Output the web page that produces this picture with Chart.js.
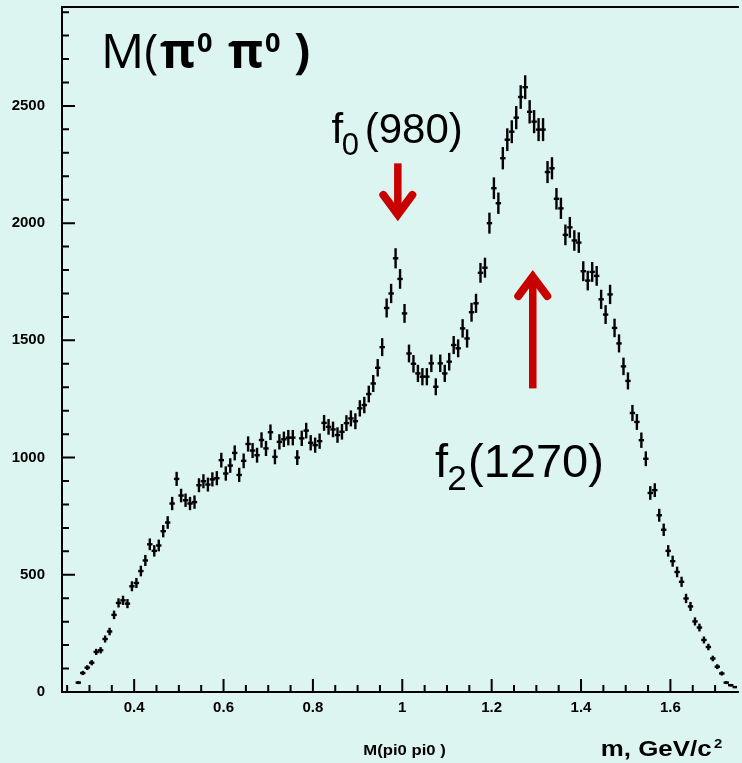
<!DOCTYPE html>
<html><head><meta charset="utf-8">
<script src="https://cdn.jsdelivr.net/npm/chart.js@4/dist/chart.umd.min.js"></script>
<style>html,body{margin:0;padding:0;background:#ddf5f1;overflow:hidden}#wrap{width:742px;height:763px;position:relative}</style>
</head><body><div id="wrap"><canvas id="c" width="742" height="763"></canvas></div>
<script>
// ---- data (bin centres in GeV/c^2, counts per 10 MeV bin) ----
const massBins = [
0.275,0.285,0.295,0.305,0.315,0.325,0.335,0.345,0.355,0.365,
0.375,0.385,0.395,0.405,0.415,0.425,0.435,0.445,0.455,0.465,
0.475,0.485,0.495,0.505,0.515,0.525,0.535,0.545,0.555,0.565,
0.575,0.585,0.595,0.605,0.615,0.625,0.635,0.645,0.655,0.665,
0.675,0.685,0.695,0.705,0.715,0.725,0.735,0.745,0.755,0.765,
0.775,0.785,0.795,0.805,0.815,0.825,0.835,0.845,0.855,0.865,
0.875,0.885,0.895,0.905,0.915,0.925,0.935,0.945,0.955,0.965,
0.975,0.985,0.995,1.005,1.015,1.025,1.035,1.045,1.055,1.065,
1.075,1.085,1.095,1.105,1.115,1.125,1.135,1.145,1.155,1.165,
1.175,1.185,1.195,1.205,1.215,1.225,1.235,1.245,1.255,1.265,
1.275,1.285,1.295,1.305,1.315,1.325,1.335,1.345,1.355,1.365,
1.375,1.385,1.395,1.405,1.415,1.425,1.435,1.445,1.455,1.465,
1.475,1.485,1.495,1.505,1.515,1.525,1.535,1.545,1.555,1.565,
1.575,1.585,1.595,1.605,1.615,1.625,1.635,1.645,1.655,1.665,
1.675,1.685,1.695,1.705,1.715,1.725,1.735,1.745
];
const counts = [
40,81,104,125,171,178,226,258,329,380,
391,377,451,465,516,561,630,602,625,686,
723,804,909,838,818,804,810,882,899,885,
907,912,989,932,966,1020,926,986,1058,1030,
1010,1075,1039,1108,1003,1067,1078,1085,1085,1000,
1082,1115,1063,1053,1070,1148,1131,1120,1096,1110,
1147,1167,1155,1210,1224,1271,1316,1383,1471,1638,
1700,1850,1762,1615,1444,1400,1359,1345,1345,1402,
1302,1402,1359,1409,1480,1466,1551,1508,1620,1658,
1788,1810,2000,2149,2085,2277,2356,2390,2450,2538,
2580,2475,2433,2399,2399,2218,2234,2104,2063,1950,
1982,1926,1917,1795,1755,1792,1775,1675,1610,1696,
1553,1487,1389,1327,1190,1152,1074,995,849,861,
754,692,602,558,512,470,399,365,301,275,
222,192,143,108,79,40,29,21
];
const yTickValues = [0,500,1000,1500,2000,2500];
const yTickLabels = ['0','500','1000','1500','2000','2500'];
const xTickValues = [0.4,0.6,0.8,1.0,1.2,1.4,1.6];
const xTickLabels = ['0.4','0.6','0.8','1','1.2','1.4','1.6'];

// ---- annotation config ----
const arrowDefs = [
  {x:0.99,  from:2255, to:2037},
  {x:1.292, from:1295, to:1772}
];
const RED = '#c80000';

const yMinor = []; for (let v=0; v<=2900; v+=100) yMinor.push(v);
const xMinor = []; for (let k=5; k<=34; k++) xMinor.push(Math.round(k*5)/100);

function lookup(vals, labels, v){
  const i = vals.findIndex(t => Math.abs(t - v) < 1e-6);
  return i >= 0 ? labels[i] : '';
}
function txt(ctx, s, left, base, font, sx){
  sx = sx || 1;
  ctx.font = font;
  const m = ctx.measureText(s);
  ctx.save(); ctx.translate(left, base); ctx.scale(sx, 1);
  ctx.textAlign = 'left'; ctx.textBaseline = 'alphabetic';
  ctx.fillText(s, m.actualBoundingBoxLeft, 0);
  ctx.restore();
}

const framePlugin = {
  id: 'framePlugin',
  beforeDraw(chart){
    const ctx = chart.ctx;
    ctx.save(); ctx.fillStyle = '#ddf5f1';
    ctx.fillRect(0,0,chart.width,chart.height); ctx.restore();
  },
  beforeDatasetsDraw(chart){
    const ctx = chart.ctx, xs = chart.scales.x, ys = chart.scales.y;
    ctx.save(); ctx.strokeStyle = '#000'; ctx.lineWidth = 2.4;
    counts.forEach((v,i) => {
      const e = Math.sqrt(v);
      const px = xs.getPixelForValue(massBins[i]);
      ctx.beginPath();
      ctx.moveTo(px, ys.getPixelForValue(v + e));
      ctx.lineTo(px, ys.getPixelForValue(Math.max(0, v - e)));
      ctx.stroke();
    });
    ctx.restore();
  },
  afterDraw(chart){
    const ctx = chart.ctx, a = chart.chartArea, xs = chart.scales.x, ys = chart.scales.y;
    ctx.save();
    ctx.strokeStyle = '#000'; ctx.lineWidth = 2; ctx.lineCap = 'butt';
    // frame
    ctx.beginPath();
    ctx.moveTo(a.left, a.top); ctx.lineTo(a.right + 2, a.top);
    ctx.moveTo(a.left, a.top - 1); ctx.lineTo(a.left, a.bottom + 1);
    ctx.moveTo(a.left - 1, a.bottom); ctx.lineTo(a.right + 2, a.bottom);
    ctx.stroke();
    // ticks (inward)
    ctx.beginPath();
    ys.ticks.forEach(t => {
      const py = ys.getPixelForValue(t.value);
      const len = lookup(yTickValues, yTickLabels, t.value) !== '' ? 13 : 7;
      ctx.moveTo(a.left, py); ctx.lineTo(a.left + len, py);
    });
    xs.ticks.forEach(t => {
      const px = xs.getPixelForValue(t.value);
      const len = lookup(xTickValues, xTickLabels, t.value) !== '' ? 13 : 7;
      ctx.moveTo(px, a.bottom); ctx.lineTo(px, a.bottom - len);
    });
    ctx.stroke();

    // arrows
    ctx.strokeStyle = RED; ctx.fillStyle = RED;
    arrowDefs.forEach(d => {
      const px = xs.getPixelForValue(d.x);
      const y0 = ys.getPixelForValue(d.from), y1 = ys.getPixelForValue(d.to);
      const dir = y1 > y0 ? 1 : -1;
      ctx.lineWidth = 7.5; ctx.lineCap = 'butt';
      ctx.beginPath(); ctx.moveTo(px, y0); ctx.lineTo(px, y1 - dir*3); ctx.stroke();
      ctx.lineWidth = 8; ctx.lineCap = 'round'; ctx.lineJoin = 'miter'; ctx.miterLimit = 10;
      ctx.beginPath();
      ctx.moveTo(px - 14.5, y1 - dir*19.5); ctx.lineTo(px, y1); ctx.lineTo(px + 14.5, y1 - dir*19.5);
      ctx.stroke();
    });

    // texts
    ctx.fillStyle = '#000';
    // title
    txt(ctx, 'M(', 105, 68, '48px "Open Sans"');
    txt(ctx, '\u03C0', 160, 68, 'bold 48px "Open Sans"');
    txt(ctx, '0', 197, 52, 'bold 27px "Open Sans"');
    txt(ctx, '\u03C0', 228, 68, 'bold 48px "Open Sans"');
    txt(ctx, '0', 265, 52, 'bold 27px "Open Sans"');
    txt(ctx, ')', 295, 68, 'bold 48px "Open Sans"');
    // f0(980)
    txt(ctx, 'f', 331.5, 143, '42px "Liberation Sans"');
    txt(ctx, '0', 342.7, 155, '31px "Liberation Sans"');
    txt(ctx, '(980)', 366.7, 143, '42px "Liberation Sans"');
    // f2(1270)
    txt(ctx, 'f', 435, 477, '47px "Liberation Sans"');
    txt(ctx, '2', 448.3, 490, '35px "Liberation Sans"');
    txt(ctx, '(1270)', 470, 477, '47px "Liberation Sans"');
    // axis captions
    txt(ctx, 'M(pi0 pi0 )', 363.3, 755, 'bold 14.5px "Liberation Sans"', 1.15);
    txt(ctx, 'm, GeV/c', 602, 756, 'bold 22.5px "Liberation Sans"', 1.15);
    txt(ctx, '2', 714, 748.3, 'bold 13px "Liberation Sans"', 1.15);
    ctx.restore();
  }
};

const tickFont = {family:'"Liberation Sans", Arial, sans-serif', weight:'bold', size:15};

new Chart(document.getElementById('c'), {
  type: 'scatter',
  data: {
    datasets: [{
      label: 'M(pi0 pi0)',
      data: massBins.map((m,i) => ({x:m, y:counts[i]})),
      pointStyle: 'line',
      pointRadius: 2.7,
      pointHoverRadius: 2.7,
      borderColor: '#000',
      backgroundColor: '#000',
      borderWidth: 2.4,
      showLine: false
    }]
  },
  options: {
    responsive: false,
    devicePixelRatio: 1,
    animation: false,
    events: [],
    layout: {padding: {top:7, left:0, right:0, bottom:0}},
    plugins: {legend:{display:false}, tooltip:{enabled:false}, title:{display:false}},
    scales: {
      x: {
        type: 'linear', min: 0.2385, max: 1.7488,
        afterBuildTicks(s){ s.ticks = xMinor.map(v => ({value:v})); },
        afterFit(s){ s.height = 71; s.paddingLeft = 0; s.paddingRight = 0; },
        grid: {display:false, drawTicks:false},
        border: {display:false},
        ticks: {autoSkip:false, maxRotation:0, minRotation:0, padding:7, color:'#000', font:tickFont,
          callback: v => lookup(xTickValues, xTickLabels, v)}
      },
      y: {
        type: 'linear', min: 0, max: 2922,
        afterBuildTicks(s){ s.ticks = yMinor.map(v => ({value:v})); },
        afterFit(s){ s.width = 62; s.paddingTop = 0; s.paddingBottom = 0; },
        grid: {display:false, drawTicks:false},
        border: {display:false},
        ticks: {autoSkip:false, padding:17, color:'#000', font:tickFont,
          callback: v => lookup(yTickValues, yTickLabels, v)}
      }
    }
  },
  plugins: [framePlugin]
});
</script>
</body></html>
